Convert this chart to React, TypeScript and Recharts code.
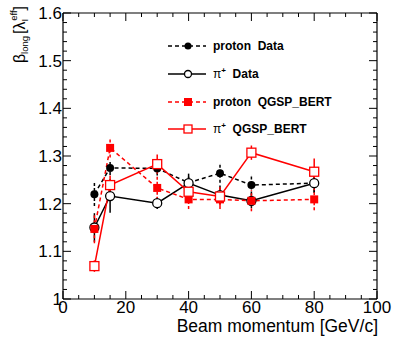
import { ComposedChart, Line, XAxis, YAxis, ErrorBar } from 'recharts';

const MOMENTUM = [10, 15, 30, 40, 50, 60, 80];
const PROTON_DATA = [1.22, 1.275, 1.274, 1.244, 1.264, 1.239, 1.243];
const PROTON_DATA_ERR = [0.025, 0.015, 0.015, 0.015, 0.02, 0.02, 0.02];
const PION_DATA = [1.15, 1.216, 1.201, 1.243, 1.218, 1.206, 1.243];
const PION_DATA_ERR = [0.03, 0.035, 0.012, 0.02, 0.02, 0.015, 0.02];
const PROTON_QGSP = [1.147, 1.317, 1.233, 1.209, 1.209, 1.206, 1.209];
const PROTON_QGSP_ERR = [0.03, 0.02, 0.025, 0.02, 0.02, 0.022, 0.023];
const PION_QGSP = [1.069, 1.239, 1.283, 1.225, 1.215, 1.307, 1.267];
const PION_QGSP_ERR = [0.012, 0.02, 0.02, 0.02, 0.02, 0.015, 0.028];

const X_TICKS = [0, 5, 10, 15, 20, 25, 30, 35, 40, 45, 50, 55, 60, 65, 70, 75, 80, 85, 90, 95, 100];
const Y_TICKS = [
  1, 1.02, 1.04, 1.06, 1.08, 1.1, 1.12, 1.14, 1.16, 1.18, 1.2, 1.22, 1.24, 1.26, 1.28, 1.3,
  1.32, 1.34, 1.36, 1.38, 1.4, 1.42, 1.44, 1.46, 1.48, 1.5, 1.52, 1.54, 1.56, 1.58, 1.6,
];

const data = MOMENTUM.map((p, i) => ({
  p,
  pd: PROTON_DATA[i],
  pdErr: PROTON_DATA_ERR[i],
  pi: PION_DATA[i],
  piErr: PION_DATA_ERR[i],
  pq: PROTON_QGSP[i],
  pqErr: PROTON_QGSP_ERR[i],
  piq: PION_QGSP[i],
  piqErr: PION_QGSP_ERR[i],
}));

const FONT = '"Liberation Sans", Arial, sans-serif';
const RED = '#ff0000';

const isMajorX = (v: number) => v % 20 === 0;
const isMajorY = (v: number) => Math.round(v * 100) % 10 === 0;

const BottomTick = (props: any) => {
  const { x, y, payload } = props;
  const major = isMajorX(payload.value);
  return (
    <g>
      <line x1={x} x2={x} y1={y} y2={y - (major ? 8 : 4)} stroke="#000" />
      {major && (
        <text x={x} y={y + 14} textAnchor="middle" fontSize={17} fontFamily={FONT} fill="#000">
          {payload.value}
        </text>
      )}
    </g>
  );
};

const TopTick = (props: any) => {
  const { x, y, payload } = props;
  const major = isMajorX(payload.value);
  return <line x1={x} x2={x} y1={y} y2={y + (major ? 8 : 4)} stroke="#000" />;
};

const LeftTick = (props: any) => {
  const { x, y, payload } = props;
  const major = isMajorY(payload.value);
  const label = Math.abs(payload.value - 1) < 1e-9 ? '1' : payload.value.toFixed(1);
  return (
    <g>
      <line x1={x} x2={x + (major ? 8 : 4)} y1={y} y2={y} stroke="#000" />
      {major && (
        <text x={x - 1} y={y} dy={6} textAnchor="end" fontSize={17} fontFamily={FONT} fill="#000">
          {label}
        </text>
      )}
    </g>
  );
};

const RightTick = (props: any) => {
  const { x, y, payload } = props;
  const major = isMajorY(payload.value);
  return <line x1={x} x2={x - (major ? 8 : 4)} y1={y} y2={y} stroke="#000" />;
};

const FilledCircle = (props: any) => {
  const { cx, cy, index } = props;
  return <circle key={index} cx={cx} cy={cy} r={4} fill="#000" />;
};
const OpenCircle = (props: any) => {
  const { cx, cy, index } = props;
  return <circle key={index} cx={cx} cy={cy} r={4.5} fill="#fff" stroke="#000" strokeWidth={1.3} />;
};
const FilledSquare = (props: any) => {
  const { cx, cy, index } = props;
  return <rect key={index} x={cx - 4} y={cy - 4} width={8} height={8} fill={RED} />;
};
const OpenSquare = (props: any) => {
  const { cx, cy, index } = props;
  return <rect key={index} x={cx - 4.5} y={cy - 4.5} width={9} height={9} fill="#fff" stroke={RED} strokeWidth={1.3} />;
};

const LegendRow = ({ y, color, dashed, marker, children }: any) => (
  <g>
    <line x1={168} x2={206} y1={y} y2={y} stroke={color} strokeWidth={1.5} strokeDasharray={dashed ? '4 3' : undefined} />
    {marker === 'fc' && <circle cx={188} cy={y} r={3.5} fill="#000" />}
    {marker === 'oc' && <circle cx={188} cy={y} r={3.5} fill="#fff" stroke="#000" strokeWidth={1.3} />}
    {marker === 'fs' && <rect x={184} y={y - 4} width={8} height={8} fill={RED} />}
    {marker === 'os' && <rect x={184} y={y - 4} width={8} height={8} fill="#fff" stroke={RED} strokeWidth={1.3} />}
    <text x={213} y={y + 4} fontSize={12} fontWeight="bold" fontFamily={FONT} fill="#000" style={{ whiteSpace: 'pre' }}>
      {children}
    </text>
  </g>
);

const axisLine = { stroke: '#000', strokeWidth: 1.2 };

export default function App() {
  return (
    <div style={{ position: 'absolute', left: 0, top: 0, width: 395, height: 338, background: '#fff' }}>
      <ComposedChart width={395} height={338} data={data} margin={{ top: 12, right: 17, bottom: 38, left: 62 }}>
        <XAxis
          type="number"
          dataKey="p"
          domain={[0, 100]}
          ticks={X_TICKS}
          interval={0}
          height={1}
          tickSize={0}
          tickMargin={0}
          tickLine={false}
          tick={BottomTick}
          axisLine={axisLine}
          allowDataOverflow
        />
        <XAxis
          xAxisId="top"
          orientation="top"
          type="number"
          dataKey="p"
          domain={[0, 100]}
          ticks={X_TICKS}
          interval={0}
          height={1}
          tickSize={0}
          tickMargin={0}
          tickLine={false}
          tick={TopTick}
          axisLine={axisLine}
          allowDataOverflow
        />
        <YAxis
          type="number"
          domain={[1, 1.6]}
          ticks={Y_TICKS}
          interval={0}
          width={1}
          tickSize={0}
          tickMargin={0}
          tickLine={false}
          tick={LeftTick}
          axisLine={axisLine}
          allowDataOverflow
        />
        <YAxis
          yAxisId="right"
          orientation="right"
          type="number"
          domain={[1, 1.6]}
          ticks={Y_TICKS}
          interval={0}
          width={1}
          tickSize={0}
          tickMargin={0}
          tickLine={false}
          tick={RightTick}
          axisLine={axisLine}
          allowDataOverflow
        />
        <Line dataKey="pd" stroke="#000" strokeWidth={1.5} strokeDasharray="4 3" dot={FilledCircle} activeDot={false} isAnimationActive={false}>
          <ErrorBar dataKey="pdErr" width={0} stroke="#000" strokeWidth={1.5} strokeDasharray="3 2" direction="y" />
        </Line>
        <Line dataKey="pi" stroke="#000" strokeWidth={1.5} dot={OpenCircle} activeDot={false} isAnimationActive={false}>
          <ErrorBar dataKey="piErr" width={0} stroke="#000" strokeWidth={1.5} direction="y" />
        </Line>
        <Line dataKey="pq" stroke={RED} strokeWidth={1.5} strokeDasharray="4 3" dot={FilledSquare} activeDot={false} isAnimationActive={false}>
          <ErrorBar dataKey="pqErr" width={0} stroke={RED} strokeWidth={1.5} strokeDasharray="3 2" direction="y" />
        </Line>
        <Line dataKey="piq" stroke={RED} strokeWidth={1.5} dot={OpenSquare} activeDot={false} isAnimationActive={false}>
          <ErrorBar dataKey="piqErr" width={0} stroke={RED} strokeWidth={1.5} direction="y" />
        </Line>
      </ComposedChart>
      <svg width={395} height={338} style={{ position: 'absolute', left: 0, top: 0, pointerEvents: 'none' }}>
        <LegendRow y={46} color="#000" dashed marker="fc">{'proton  Data'}</LegendRow>
        <LegendRow y={74} color="#000" marker="oc">
          <tspan fontWeight="normal">π</tspan>
          <tspan fontSize={8} dy={-5}>+</tspan>
          <tspan dy={5}>{'  Data'}</tspan>
        </LegendRow>
        <LegendRow y={102} color={RED} dashed marker="fs">{'proton  QGSP_BERT'}</LegendRow>
        <LegendRow y={129} color={RED} marker="os">
          <tspan fontWeight="normal">π</tspan>
          <tspan fontSize={8} dy={-5}>+</tspan>
          <tspan dy={5}>{'  QGSP_BERT'}</tspan>
        </LegendRow>
        <text x={378} y={332} textAnchor="end" fontSize={17.5} fontFamily={FONT} fill="#000">
          Beam momentum [GeV/c]
        </text>
        <text transform="translate(25,6) rotate(-90)" textAnchor="end" fontSize={16} fontFamily={FONT} fill="#000">
          <tspan>β</tspan>
          <tspan fontSize={9.5} dy={3}>long</tspan>
          <tspan dx={2} dy={-3}>[λ</tspan>
          <tspan fontSize={9.5} dy={3}>I</tspan>
          <tspan fontSize={9.5} dx={-2} dy={-11}>eff</tspan>
          <tspan dy={8}>]</tspan>
        </text>
      </svg>
    </div>
  );
}
